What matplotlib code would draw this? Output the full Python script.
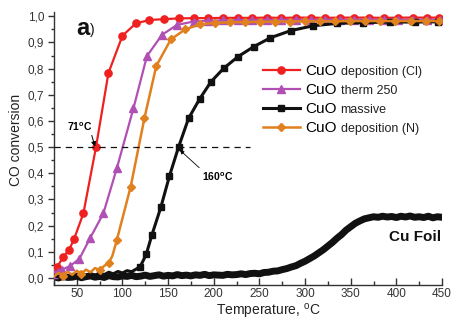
import numpy as np
import matplotlib
matplotlib.use("Agg")
import matplotlib.pyplot as plt
from matplotlib.ticker import MultipleLocator, FuncFormatter

plt.rcParams['font.family'] = ['Liberation Sans', 'DejaVu Sans']
plt.rcParams['mathtext.fontset'] = 'custom'
plt.rcParams['mathtext.rm'] = 'Liberation Sans'
plt.rcParams['mathtext.bf'] = 'Liberation Sans:bold'

# ---------------- data ----------------
red_T = [25, 28.6, 35.2, 41.5, 47, 57.2, 71, 84.6, 100, 114.7, 129.6, 145, 162, 178, 194, 210,
         226, 242, 258, 274, 290, 306, 322, 338, 354, 370, 386, 402, 418, 434, 447]
red_Y = [0.03, 0.043, 0.081, 0.107, 0.149, 0.247, 0.50, 0.783, 0.926, 0.973, 0.986, 0.989, 0.992,
         0.993, 0.993, 0.994, 0.994, 0.994, 0.995, 0.994, 0.995, 0.995, 0.994, 0.995, 0.995, 0.995,
         0.994, 0.995, 0.995, 0.995, 0.995]

purple_T = [25, 29.4, 33.4, 42.6, 52.8, 64.5, 79.1, 93.8, 112, 126.8, 143.2, 159.7, 177.9, 194, 210,
            226, 242, 258, 274, 290, 306, 322, 338, 354, 370, 386, 402, 418, 434, 448]
purple_Y = [0.015, 0.024, 0.031, 0.046, 0.073, 0.152, 0.247, 0.419, 0.648, 0.848, 0.929, 0.967, 0.980,
            0.983, 0.984, 0.985, 0.985, 0.986, 0.986, 0.986, 0.986, 0.987, 0.986, 0.987, 0.987, 0.987,
            0.987, 0.987, 0.987, 0.986]

orange_T = [25, 30, 35, 40, 45, 50, 55, 60, 65, 70, 75, 80, 85, 89, 93.8, 109, 124, 137, 153, 168.8,
            184.5, 201, 217.5, 234, 250.5, 267, 283.5, 300, 316.5, 333, 349.5, 366, 382.5, 399, 415.5,
            432, 447]
orange_Y = [0.006, 0.020, 0.008, 0.024, 0.012, 0.028, 0.016, 0.032, 0.022, 0.038, 0.030, 0.046, 0.058,
            0.085, 0.145, 0.349, 0.61, 0.81, 0.912, 0.95, 0.969, 0.975, 0.977, 0.978, 0.979, 0.980,
            0.980, 0.981, 0.981, 0.981, 0.982, 0.982, 0.982, 0.982, 0.982, 0.982, 0.982]

black_T = [25, 30, 35, 40, 45, 50, 55, 60, 65, 70, 75, 80, 85, 90, 95, 100, 105, 110, 115,
           119.4, 126, 132.2, 142, 151.5, 161.4, 172.4, 184.5, 197, 210.8, 226.6, 243.8, 262.1,
           284.1, 309, 335.3, 364, 393, 420, 446]
black_Y = [0.010, 0.004, 0.013, 0.006, 0.014, 0.007, 0.015, 0.009, 0.017, 0.011, 0.019, 0.013, 0.022,
           0.016, 0.025, 0.019, 0.028, 0.024, 0.034,
           0.043, 0.09, 0.164, 0.27, 0.39, 0.50, 0.61, 0.684, 0.75, 0.801, 0.846, 0.884, 0.918,
           0.945, 0.964, 0.973, 0.976, 0.978, 0.978, 0.979]

foil_T = [25, 30, 35, 40, 45, 50, 55, 60, 65, 70, 75, 80, 85, 90, 95, 100, 105, 110, 115, 120,
          125, 130, 135, 140, 145, 150, 155, 160, 165, 170, 175, 180, 185, 190, 195, 200, 205, 210,
          215, 220, 225, 230, 235, 240, 245, 250, 255, 260, 265, 270, 275, 280, 285, 290, 295, 300,
          305, 310, 315, 320, 325, 330, 335, 340, 345, 350, 355, 360, 365, 370, 375, 380, 385, 390,
          395, 400, 405, 410, 415, 420, 425, 430, 435, 440, 445, 450]
foil_Y = [0.004, 0.000, 0.006, 0.002, 0.003, 0.007, 0.001, 0.005, 0.008, 0.003, 0.006, 0.002, 0.009,
          0.005, 0.004, 0.008, 0.006, 0.010, 0.005, 0.007, 0.011, 0.006, 0.009, 0.012, 0.007, 0.010,
          0.008, 0.013, 0.009, 0.011, 0.008, 0.012, 0.010, 0.014, 0.009, 0.012, 0.011, 0.010, 0.014,
          0.012, 0.013, 0.016, 0.013, 0.017, 0.018, 0.016, 0.021, 0.022, 0.026, 0.027, 0.032, 0.036,
          0.042, 0.047, 0.056, 0.064, 0.074, 0.084, 0.096, 0.108, 0.122, 0.136, 0.152, 0.166, 0.183,
          0.196, 0.209, 0.218, 0.226, 0.230, 0.234, 0.232, 0.236, 0.233, 0.235, 0.231, 0.236, 0.233,
          0.237, 0.232, 0.234, 0.231, 0.236, 0.230, 0.234, 0.232]

labels_main = ["CuO", "CuO", "CuO", "CuO"]
labels_suffix = ["deposition (Cl)", "therm 250", "massive", "deposition (N)"]
x_ticks = [50, 100, 150, 200, 250, 300, 350, 400, 450]
y_ticks = [0.0, 0.1, 0.2, 0.3, 0.4, 0.5, 0.6, 0.7, 0.8, 0.9, 1.0]
half_level = 0.5
t50_red = 71
t50_black = 160

# ---------------- figure ----------------
W, H = 452, 320
fig = plt.figure(figsize=(W / 100, H / 100), dpi=100)
ax = fig.add_axes([54 / W, 1 - 285 / H, 388 / W, (285 - 11.7) / H])

RED = '#ee2020'
PURPLE = '#b050b4'
ORANGE = '#e0801e'
BLACK = '#111111'

ax.plot(foil_T, foil_Y, color=BLACK, lw=5.0, solid_joinstyle='round', zorder=2)
l_red, = ax.plot(red_T, red_Y, color=RED, lw=1.6, marker='o', ms=5.2, zorder=3)
l_pur, = ax.plot(purple_T, purple_Y, color=PURPLE, lw=1.6, marker='^', ms=6, zorder=4)
l_blk, = ax.plot(black_T, black_Y, color=BLACK, lw=2.2, marker='s', ms=3.8,
                 markevery=list(range(19, len(black_T))), zorder=5)
l_ora, = ax.plot(orange_T, orange_Y, color=ORANGE, lw=1.8, marker='D', ms=4.3,
                 markevery=[2, 6, 10, 12] + list(range(14, len(orange_T))), zorder=6)

ax.plot([25, 240], [half_level, half_level], color=BLACK, lw=0.9, ls=(0, (5, 4)), zorder=7)

ax.set_xlim(25, 450)
ax.set_ylim(-0.0268, 1.0176)

ax.spines['top'].set_visible(False)
ax.spines['right'].set_visible(False)
for s in ('left', 'bottom'):
    ax.spines[s].set_linewidth(1.0)
    ax.spines[s].set_color('#333333')

ax.set_xticks(x_ticks)
ax.xaxis.set_minor_locator(MultipleLocator(25))
ax.set_yticks(y_ticks)
ax.yaxis.set_minor_locator(MultipleLocator(0.05))
ax.yaxis.set_major_formatter(FuncFormatter(lambda v, p: f"{v:.1f}".replace('.', ',')))
ax.tick_params(axis='x', which='major', direction='in', length=5, width=1, labelsize=8.5,
               colors='#333333', pad=2)
ax.tick_params(axis='x', which='minor', direction='in', length=3, width=1, colors='#333333')
ax.tick_params(axis='y', which='major', direction='out', length=4, width=1, labelsize=8.5,
               colors='#333333', pad=3)
ax.tick_params(axis='y', which='minor', direction='out', length=2.5, width=1, colors='#333333')

ax.set_xlabel("Temperature, $^{\\mathregular{o}}$C", fontsize=10, color='#222222')
ax.xaxis.set_label_coords(0.552, -0.062)
ax.set_ylabel("CO conversion", fontsize=10, color='#222222')
ax.yaxis.set_label_coords(-0.08, 0.531)

# annotations
ax.text(49.9, 0.9285, "a", fontsize=17, fontweight='bold', ha='left', va='baseline', color='#111111')
ax.text(64, 0.931, ")", fontsize=10, ha='left', va='baseline', color='#111111')
ax.text(392, 0.1425, "Cu Foil", fontsize=11, fontweight='bold', ha='left', va='baseline',
        color='#111111')
ax.annotate(f"{t50_red}" + "$^{\\mathbf{o}}$C", xy=(70, 0.502), xytext=(38.9, 0.563),
            fontsize=7.5, fontweight='bold', ha='left', va='baseline',
            arrowprops=dict(arrowstyle='-|>', lw=0.7, color='k', mutation_scale=7,
                            shrinkA=0, shrinkB=0, relpos=(0.95, 0.0)))
ax.annotate(f"{t50_black}" + "$^{\\mathbf{o}}$C", xy=(162.8, 0.489), xytext=(187.1, 0.372),
            fontsize=7.5, fontweight='bold', ha='left', va='baseline',
            arrowprops=dict(arrowstyle='-|>', lw=0.6, color='k', mutation_scale=6,
                            shrinkA=0, shrinkB=0, relpos=(0.0, 1.0)))

# legend
leg = ax.legend([l_red, l_pur, l_blk, l_ora], labels_main, loc='upper left',
                bbox_to_anchor=(263 / W, 1 - 64 / H), bbox_transform=fig.transFigure,
                frameon=False, fontsize=11, handlelength=2.4, handletextpad=0.35,
                labelspacing=0.33, borderpad=0, borderaxespad=0, markerscale=1.0)
fig.canvas.draw()
inv = fig.transFigure.inverted()
for txt, suf in zip(leg.get_texts(), labels_suffix):
    bb = txt.get_window_extent()
    bx, by = txt.get_transform().transform(txt.get_position())
    fx, fy = inv.transform((bb.x1 + 4, by))
    fig.text(fx, fy, suf, fontsize=9, ha='left', va='baseline', color='#222222')

fig.savefig("out.png", dpi=100)
